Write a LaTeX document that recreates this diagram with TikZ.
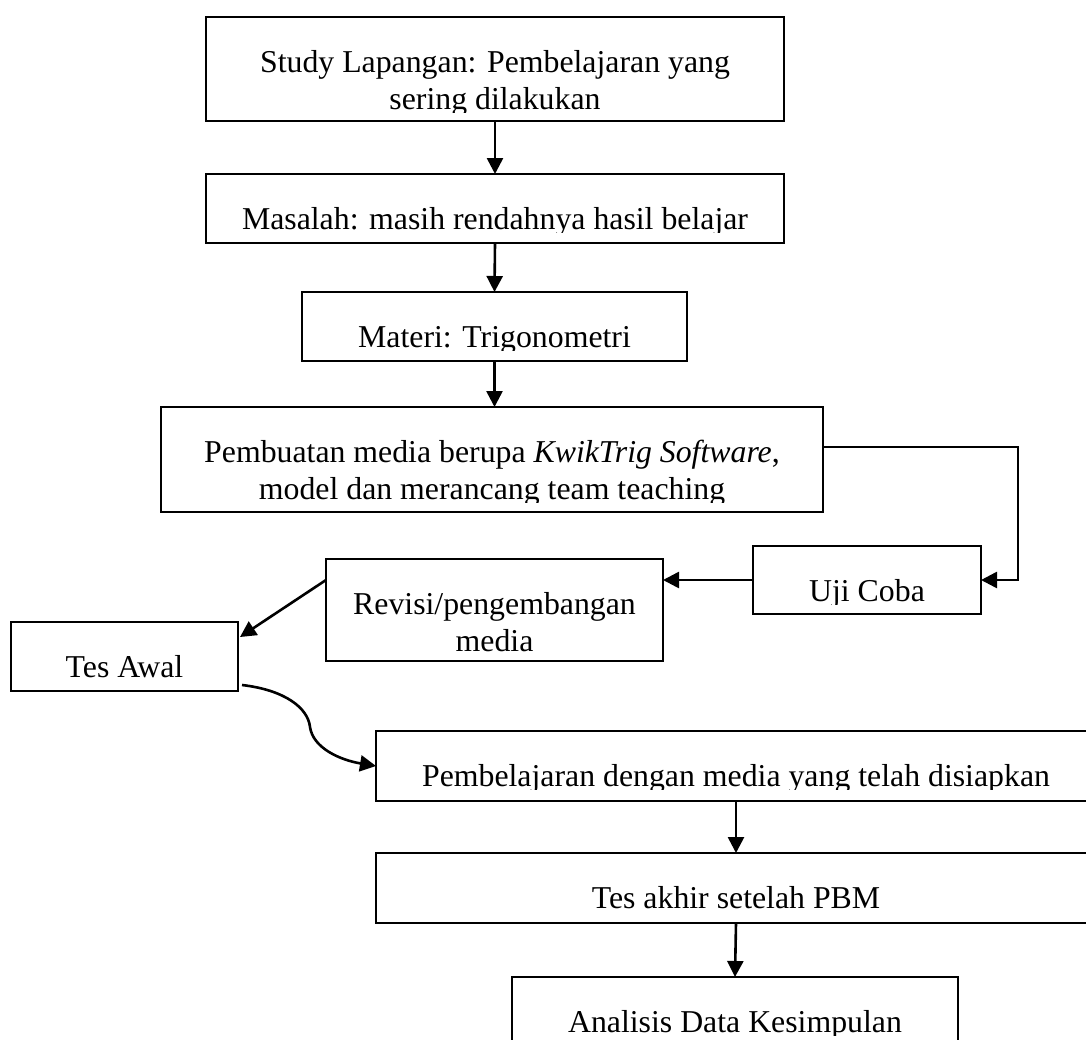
\documentclass[tikz,border=0pt]{standalone}
\usepackage{fontspec}
\setmainfont{Liberation Serif}
\usetikzlibrary{arrows.meta, calc}

\begin{document}
\begin{tikzpicture}[
    x=1pt, y=-1pt,
    box/.style={draw, line width=2pt, inner sep=0pt, outer sep=0pt, anchor=north west},
    txt/.style={anchor=north, inner sep=0pt, align=center, font={\fontsize{31.8}{37.5}\selectfont}},
    arr/.style={line width=2.6pt, -{Triangle[length=16pt, width=16pt]}}
]

% Ukuran gambar
\useasboundingbox (0,0) rectangle (1086,1039);

% Kotak: nama, kiri, atas, kanan, bawah, batas teks, isi
\newcommand{\drawBox}[7]{
    \node[box, minimum width={(#4-#2)*1pt}, minimum height={(#5-#3)*1pt}] (#1) at (#2,#3) {};
    \begin{scope}
        \clip (#2-20,#3) rectangle (#4+20,#3+#6);
        \node[txt] (#1-t) at ($(#1.north)+(0,28.75)$) {#7};
    \end{scope}
}

% ==========================================
% Alur utama
\drawBox{study}{206}{17}{784}{121}{95.5}{\strut Study Lapangan: Pembelajaran yang\\sering dilakukan}
\drawBox{masalah}{206}{174}{784}{243}{58}{\strut Masalah: masih rendahnya hasil belajar}
\drawBox{materi}{302}{292}{687}{361}{58}{\strut Materi: Trigonometri}
\drawBox{pembuatan}{161}{407}{823}{512}{95.5}{\strut Pembuatan media berupa \textit{KwikTrig Software},\\model dan merancang team teaching}

% ==========================================
% Uji coba dan revisi
\drawBox{ujicoba}{753}{546}{981}{614}{58}{\strut Uji Coba}
\drawBox{revisi}{326}{559}{663}{661}{95.5}{\strut Revisi/pengembangan\\media}
\drawBox{tesawal}{11}{622}{238}{691}{58}{\strut Tes Awal}

% ==========================================
% Pelaksanaan
\drawBox{pembelajaran}{376}{731}{1096}{801}{58}{\strut Pembelajaran dengan media yang telah disiapkan}
\drawBox{tesakhir}{376}{853}{1096}{923}{58}{\strut Tes akhir setelah PBM}
\drawBox{analisis}{512}{977}{958}{1046}{58}{\strut Analisis Data Kesimpulan}

% Panah
\draw[arr] (study.south) -- (masalah.north);
\draw[arr] (masalah.south) -- (materi.north);
\draw[arr] (materi.south) -- (materi.south |- pembuatan.north);
\draw[arr] ($(pembuatan.north east)!0.38!(pembuatan.south east)$) -- ++(195,0) |- (ujicoba.east);
\draw[arr] (ujicoba.west) -- (ujicoba.west -| revisi.east);
\draw[arr] (revisi.west |- ujicoba.west) -- ([shift={(2pt,-15pt)}]tesawal.north east);
\draw[arr] ([shift={(4pt,6pt)}]tesawal.south east) .. controls (285,690) and (308,708) .. (310,727)
    .. controls (313,748) and (340,760) .. (pembelajaran.west);
\draw[arr] (pembelajaran.south) -- (tesakhir.north);
\draw[arr] (tesakhir.south) -- (analisis.north);

\end{tikzpicture}
\end{document}
